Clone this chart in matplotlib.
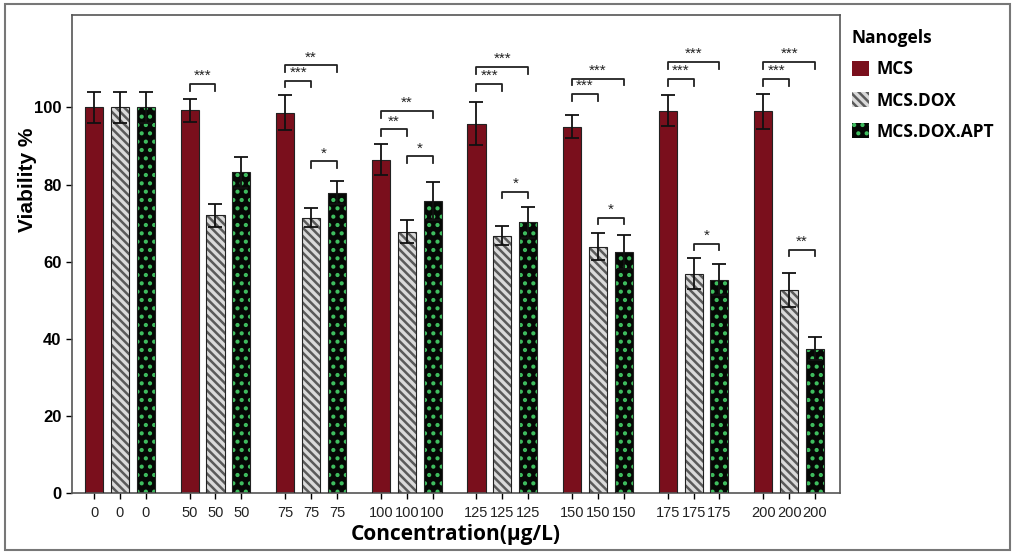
import numpy as np
from matplotlib import pyplot as plt
from matplotlib.patches import Rectangle

plt.rcParams['font.family'] = ['Liberation Sans', 'DejaVu Sans']
plt.rcParams['hatch.linewidth'] = 1.8

concs = ['0', '50', '75', '100', '125', '150', '175', '200']
groups = ['MCS', 'MCS.DOX', 'MCS.DOX.APT']
mcs = [100, 99.3, 98.7, 86.5, 95.8, 95.0, 99.2, 99.0]
mcs_err = [4, 3, 4.5, 4, 5.5, 3, 4, 4.5]
dox = [100, 72.0, 71.4, 67.8, 66.8, 63.9, 56.9, 52.7]
dox_err = [4, 3, 2.5, 3, 2.5, 3.5, 4, 4.5]
apt = [100, 83.2, 77.9, 75.8, 70.2, 62.5, 55.3, 37.4]
apt_err = [4, 4, 3, 5, 4, 4.5, 4, 3]

# (group index, bar a, bar b, height, label)
sig = [
  (1, 0, 1, 106.0, '***'),
  (2, 0, 1, 106.8, '***'), (2, 0, 2, 110.9, '**'), (2, 1, 2, 86.0, '*'),
  (3, 0, 1, 94.3, '**'), (3, 0, 2, 99.0, '**'), (3, 1, 2, 87.3, '*'),
  (4, 0, 1, 106.0, '***'), (4, 0, 2, 110.4, '***'), (4, 1, 2, 78.2, '*'),
  (5, 0, 1, 103.4, '***'), (5, 0, 2, 107.5, '***'), (5, 1, 2, 71.4, '*'),
  (6, 0, 1, 107.3, '***'), (6, 0, 2, 111.7, '***'), (6, 1, 2, 64.7, '*'),
  (7, 0, 1, 107.3, '***'), (7, 0, 2, 111.7, '***'), (7, 1, 2, 63.1, '**'),
]

G = 3.7
w = 0.7
centres = np.arange(len(concs)) * G

fig = plt.figure(figsize=(10.16, 5.54), dpi=100)
ax = fig.add_axes([0.0709, 0.110, 0.756, 0.863])

styles = [
  dict(color='#7a0f1c', edgecolor='#4a0a10', hatch=None),
  dict(color='#dadada', edgecolor='#5a5a5a', hatch='\\\\\\\\'),
  dict(color='#050805', edgecolor='#3fbf5f', hatch='..'),
]
data = [(mcs, mcs_err), (dox, dox_err), (apt, apt_err)]

handles = []
for k, ((vals, errs), st) in enumerate(zip(data, styles)):
  x = centres + (k - 1)
  b = ax.bar(x, vals, w, color=st['color'], edgecolor=st['edgecolor'],
             hatch=st['hatch'], linewidth=0, zorder=2)
  ax.bar(x, vals, w, fill=False, edgecolor='#222222', linewidth=0.8, zorder=3)
  ax.errorbar(x, vals, yerr=errs, fmt='none', ecolor='#111111',
              elinewidth=1.3, capsize=5, capthick=1.3, zorder=4)
  handles.append(b)

for g, a, bb, h, lab in sig:
  x1 = centres[g] + a - 1
  x2 = centres[g] + bb - 1
  ax.plot([x1, x1, x2, x2], [h - 1.6, h, h, h - 1.6], color='#222222', lw=1.3, zorder=5)
  ax.text((x1 + x2) / 2, h + 0.3, lab, ha='center', va='bottom', fontsize=11, color='#222222')

xt = np.concatenate([centres + k for k in (-1, 0, 1)])
xl = concs * 3
order = np.argsort(xt)
ax.set_xticks(xt[order])
ax.set_xticklabels([xl[i] for i in order], fontsize=10.5, color='#222222')
ax.set_xlim(-1.85, 27.87)
ax.set_ylim(0, 124)
ax.set_yticks([0, 20, 40, 60, 80, 100])
ax.tick_params(axis='y', labelsize=12, length=4, width=1)
ax.tick_params(axis='x', length=4, width=1, pad=5)
for t in ax.get_yticklabels():
  t.set_fontweight('bold')
for s in ax.spines.values():
  s.set_color('#555555')
  s.set_linewidth(1.2)
ax.set_ylabel('Viability %', fontsize=15, fontweight='bold')
ax.yaxis.set_label_coords(-0.045, 0.655)
ax.set_xlabel('Concentration(µg/L)', fontsize=15, fontweight='bold',
              family=['Open Sans', 'DejaVu Sans'], labelpad=3)

leg = fig.legend(handles, groups, loc='upper left', bbox_to_anchor=(0.823, 0.975),
                 frameon=False, title='Nanogels', alignment='left',
                 prop={'weight': 'bold', 'size': 12.5, 'family': ['Open Sans', 'DejaVu Sans']},
                 handlelength=1.0, handleheight=1.0, handletextpad=0.4,
                 labelspacing=0.75)
leg.get_title().set_fontweight('bold')
leg.get_title().set_fontsize(12.5)
leg.get_title().set_family(['Open Sans', 'DejaVu Sans'])

fig.patches.append(Rectangle((0.005, 0.008), 0.989, 0.984, transform=fig.transFigure,
                             fill=False, edgecolor='#777777', linewidth=1.5))

fig.savefig('out.png', dpi=100)
